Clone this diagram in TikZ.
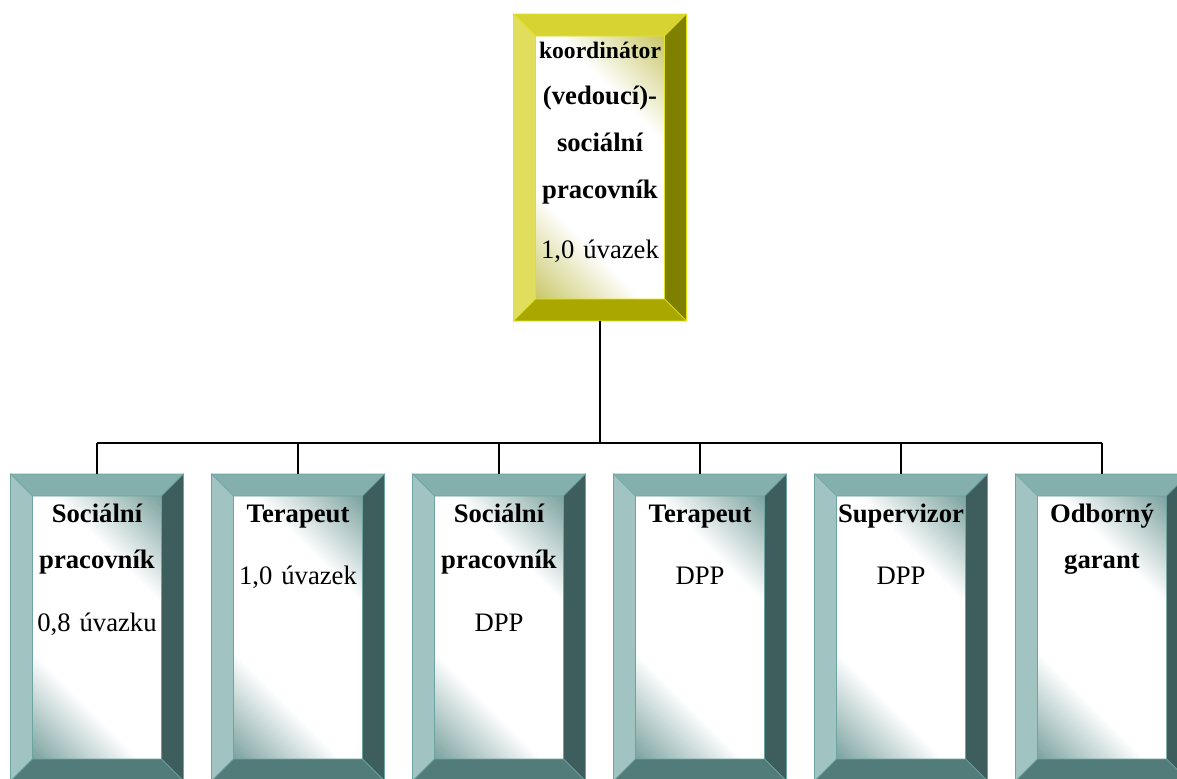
\documentclass[tikz,border=0pt]{standalone}
\usepackage{fontspec}
\setmainfont{Liberation Serif}
\usepackage{xcolor}
\definecolor{tealTop}{RGB}{131, 175, 172}
\definecolor{tealLeft}{RGB}{161, 196, 194}
\definecolor{tealRight}{RGB}{62, 94, 93}
\definecolor{tealBottom}{RGB}{81, 124, 121}
\definecolor{tealEdge}{RGB}{108, 164, 160}
\definecolor{tealShade}{RGB}{92, 140, 137}
\definecolor{oliveTop}{RGB}{214, 211, 50}
\definecolor{oliveLeft}{RGB}{224, 222, 92}
\definecolor{oliveRight}{RGB}{128, 128, 0}
\definecolor{oliveBottom}{RGB}{170, 168, 0}
\definecolor{oliveEdge}{RGB}{228, 228, 20}
\definecolor{oliveShade}{RGB}{188, 186, 70}

\pgfdeclareverticalshading{glowteal}{100bp}{color(0bp)=(tealShade); color(10bp)=(tealShade); color(34bp)=(white); color(66bp)=(white); color(90bp)=(tealShade); color(100bp)=(tealShade)}
\pgfdeclareverticalshading{glowolive}{100bp}{color(0bp)=(oliveShade); color(10bp)=(oliveShade); color(34bp)=(white); color(66bp)=(white); color(90bp)=(oliveShade); color(100bp)=(oliveShade)}

% framed box with four bevels: name, x, y, palette
\newcommand{\bevelbox}[4]{%
  \node[outerbox] (#1) at (#2,#3) {};
  \node[innerbox, shading=glow#4] (#1in) at (#1) {};
  \filldraw[fill=#4Top, draw=#4Edge] (#1.north west) -- (#1.north east) -- (#1in.north east) -- (#1in.north west) -- cycle;
  \filldraw[fill=#4Left, draw=#4Edge] (#1.north west) -- (#1in.north west) -- (#1in.south west) -- (#1.south west) -- cycle;
  \filldraw[fill=#4Right, draw=#4Edge] (#1.north east) -- (#1in.north east) -- (#1in.south east) -- (#1.south east) -- cycle;
  \filldraw[fill=#4Bottom, draw=#4Edge] (#1.south west) -- (#1in.south west) -- (#1in.south east) -- (#1.south east) -- cycle;
}

\begin{document}
\begin{tikzpicture}[x=0.75pt, y=-0.75pt,
    outerbox/.style={rectangle, inner sep=0pt, outer sep=0pt, minimum width=129.75pt, minimum height=230.25pt},
    innerbox/.style={rectangle, inner sep=0pt, outer sep=0pt, shade, shading angle=-45, minimum width=96.75pt, minimum height=197.25pt},
    boxtext/.style={anchor=base, inner sep=0pt, text width=100pt, align=center, font=\fontsize{20}{35}\selectfont\bfseries},
    wire/.style={line width=1.6pt}]
    \useasboundingbox (0,0) rectangle (1177,778);
    \clip (0,0) rectangle (1177,778);

    % Org chart
    \bevelbox{boss}{600}{167.5}{olive}
    \node[boxtext] (bosstext) at (600,58) {{\fontsize{17.7}{35}\selectfont koordinátor}\\ (vedoucí)-\\ sociální\\ pracovník\\[10pt] \mdseries 1,0 úvazek};

    \bevelbox{s1}{97}{627.5}{teal}
    \bevelbox{s2}{298}{627.5}{teal}
    \bevelbox{s3}{499}{627.5}{teal}
    \bevelbox{s4}{700}{627.5}{teal}
    \bevelbox{s5}{901}{627.5}{teal}
    \bevelbox{s6}{1102}{627.5}{teal}

    \node[boxtext] (t1) at (97,522) {Sociální\\ pracovník\\[12pt] \mdseries 0,8 úvazku};
    \node[boxtext] (t2) at (298,522) {Terapeut\\[12pt] \mdseries 1,0 úvazek};
    \node[boxtext] (t3) at (499,522) {Sociální\\ pracovník\\[12pt] \mdseries DPP};
    \node[boxtext] (t4) at (700,522) {Terapeut\\[12pt] \mdseries DPP};
    \node[boxtext] (t5) at (901,522) {Supervizor\\[12pt] \mdseries DPP};
    \node[boxtext] (t6) at (1102,522) {Odborný\\ garant};

    \coordinate (bus) at (600,443);
    \draw[wire, line width=1.9pt] (boss.south) -- (boss.south |- bus);
    \draw[wire] (s1.north |- bus) -- (s6.north |- bus);
    \draw[wire] (s1.north) -- (s1.north |- bus);
    \draw[wire] (s2.north) -- (s2.north |- bus);
    \draw[wire] (s3.north) -- (s3.north |- bus);
    \draw[wire] (s4.north) -- (s4.north |- bus);
    \draw[wire] (s5.north) -- (s5.north |- bus);
    \draw[wire] (s6.north) -- (s6.north |- bus);
\end{tikzpicture}
\end{document}
